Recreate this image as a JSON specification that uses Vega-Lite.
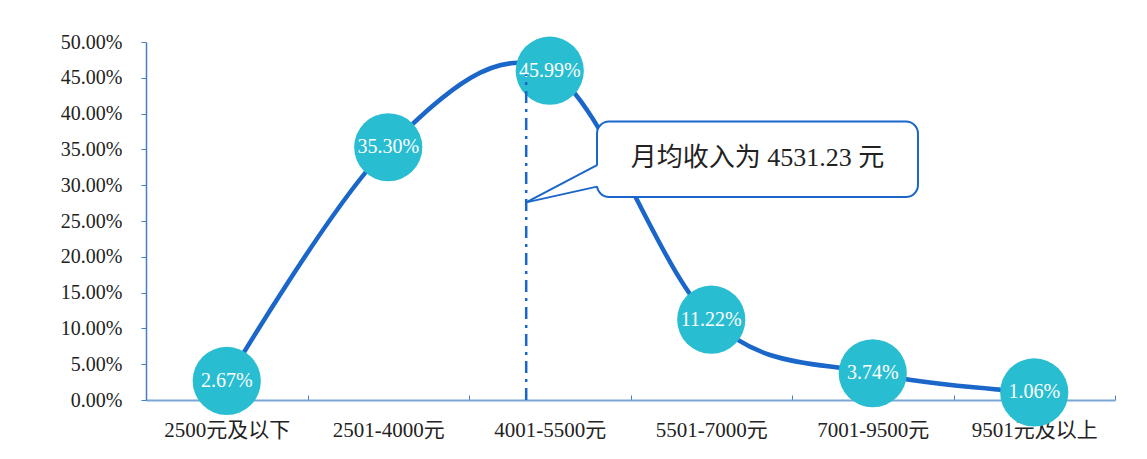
{
  "$schema": "https://vega.github.io/schema/vega-lite/v6.json",
  "width": 969,
  "height": 358,
  "autosize": {"type": "none"},
  "padding": {"left": 146, "top": 42, "right": 32, "bottom": 59},
  "background": "#ffffff",
  "config": {
    "view": {"stroke": null},
    "axisY": {
      "grid": false, "domainColor": "#4a7ebb", "domainWidth": 1.5,
      "tickColor": "#4a7ebb", "tickSize": 5, "labelPadding": 19,
      "labelOverlap": false,
      "labelFont": "Liberation Serif", "labelFontSize": 20, "labelColor": "#222222"
    }
  },
  "datasets": {
    "dist": [
      {"range": "2500元及以下", "share": 0.0267},
      {"range": "2501-4000元", "share": 0.3530},
      {"range": "4001-5500元", "share": 0.4599},
      {"range": "5501-7000元", "share": 0.1122},
      {"range": "7001-9500元", "share": 0.0374},
      {"range": "9501元及以上", "share": 0.0106}
    ],
    "note": [
      {"mean": 4531.23, "label": "月均收入为 4531.23 元"}
    ]
  },
  "resolve": {"scale": {"x": "independent"}},
  "layer": [
    {
      "data": {"name": "dist"},
      "encoding": {
        "x": {
          "field": "range", "type": "nominal", "sort": null,
          "scale": {"type": "band", "paddingInner": 0, "paddingOuter": 0},
          "axis": {
            "title": null, "labelAngle": 0, "tickBand": "extent",
            "domainColor": "#7aa6d8", "domainWidth": 2, "tickColor": "#4a7ebb",
            "tickSize": -5, "labelFont": "Liberation Serif, Noto Sans CJK SC",
            "labelFontSize": 21, "labelColor": "#222222", "labelPadding": 24,
            "labelOverlap": false
          }
        },
        "y": {
          "field": "share", "type": "quantitative",
          "scale": {"domain": [0, 0.5], "nice": false},
          "axis": {"title": null, "format": ".2%", "values": [0, 0.05, 0.1, 0.15, 0.2, 0.25, 0.3, 0.35, 0.4, 0.45, 0.5]}
        }
      },
      "layer": [
        {"mark": {"type": "line", "interpolate": "cardinal", "color": "#1a66c9", "strokeWidth": 4.5}},
        {"mark": {"type": "circle", "size": 4650, "color": "#29bdd2", "opacity": 1}},
        {
          "mark": {"type": "text", "color": "#ffffff", "font": "Liberation Serif", "fontSize": 20},
          "encoding": {"text": {"field": "share", "type": "quantitative", "format": ".2%"}}
        }
      ]
    },
    {
      "data": {"name": "note"},
      "layer": [
        {
          "mark": {"type": "rule", "color": "#1a66c9", "strokeWidth": 2.5, "strokeDash": [12, 6, 3, 6]},
          "encoding": {
            "x": {"field": "mean", "type": "quantitative", "scale": {"domain": [1000, 10000], "nice": false, "zero": false}, "axis": null},
            "y": {"datum": 0, "type": "quantitative", "axis": {"title": null, "format": ".2%", "values": [0, 0.05, 0.1, 0.15, 0.2, 0.25, 0.3, 0.35, 0.4, 0.45, 0.5]}},
            "y2": {"datum": 0.455}
          }
        },
        {
          "mark": {"type": "rect", "fill": "#ffffff", "stroke": "#1a66c9", "strokeWidth": 2, "cornerRadius": 12},
          "encoding": {
            "x": {"datum": 5189, "type": "quantitative"},
            "x2": {"datum": 8170},
            "y": {"datum": 0.389, "type": "quantitative", "axis": {"title": null, "format": ".2%", "values": [0, 0.05, 0.1, 0.15, 0.2, 0.25, 0.3, 0.35, 0.4, 0.45, 0.5]}},
            "y2": {"datum": 0.2835}
          }
        },
        {
          "mark": {"type": "rule", "color": "#ffffff", "strokeWidth": 5},
          "encoding": {
            "x": {"datum": 5189, "type": "quantitative"},
            "y": {"datum": 0.3275, "type": "quantitative", "axis": {"title": null, "format": ".2%", "values": [0, 0.05, 0.1, 0.15, 0.2, 0.25, 0.3, 0.35, 0.4, 0.45, 0.5]}},
            "y2": {"datum": 0.2985}
          }
        },
        {
          "mark": {"type": "rule", "color": "#1a66c9", "strokeWidth": 2},
          "encoding": {
            "x": {"datum": 5189, "type": "quantitative"},
            "x2": {"datum": 4531.23},
            "y": {"datum": 0.328, "type": "quantitative", "axis": {"title": null, "format": ".2%", "values": [0, 0.05, 0.1, 0.15, 0.2, 0.25, 0.3, 0.35, 0.4, 0.45, 0.5]}},
            "y2": {"datum": 0.276}
          }
        },
        {
          "mark": {"type": "rule", "color": "#1a66c9", "strokeWidth": 2},
          "encoding": {
            "x": {"datum": 5189, "type": "quantitative"},
            "x2": {"datum": 4531.23},
            "y": {"datum": 0.298, "type": "quantitative", "axis": {"title": null, "format": ".2%", "values": [0, 0.05, 0.1, 0.15, 0.2, 0.25, 0.3, 0.35, 0.4, 0.45, 0.5]}},
            "y2": {"datum": 0.276}
          }
        },
        {
          "mark": {"type": "text", "font": "Liberation Serif, Noto Sans CJK SC", "fontSize": 26, "color": "#222222"},
          "encoding": {
            "x": {"datum": 6680, "type": "quantitative"},
            "y": {"datum": 0.338, "type": "quantitative", "axis": {"title": null, "format": ".2%", "values": [0, 0.05, 0.1, 0.15, 0.2, 0.25, 0.3, 0.35, 0.4, 0.45, 0.5]}},
            "text": {"field": "label"}
          }
        }
      ]
    }
  ]
}
